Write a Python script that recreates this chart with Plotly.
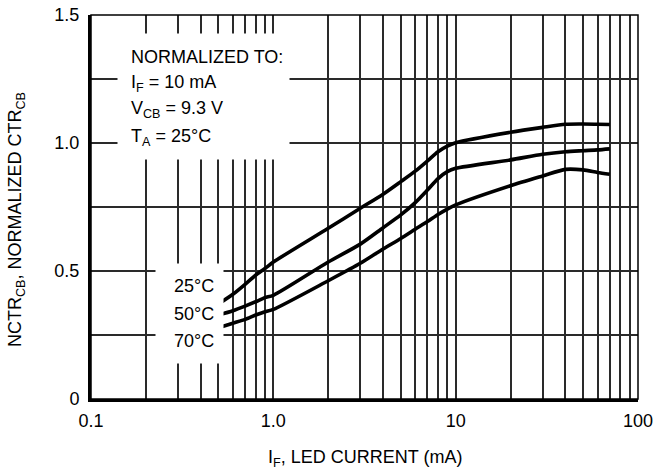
import plotly.graph_objects as go

# ---- data ----
led_current_ma = [0.5, 0.6, 0.7, 0.8, 0.9, 1.0, 2, 3, 4, 5, 6, 7, 8, 9, 10, 20, 30, 40, 50, 60, 70]
nctr_25c = [0.371, 0.409, 0.448, 0.484, 0.510, 0.535, 0.667, 0.745, 0.800, 0.849, 0.890, 0.930, 0.966, 0.988, 1.001, 1.042, 1.061, 1.073, 1.074, 1.073, 1.072]
nctr_50c = [0.328, 0.345, 0.363, 0.380, 0.396, 0.405, 0.535, 0.605, 0.669, 0.719, 0.767, 0.816, 0.861, 0.888, 0.901, 0.934, 0.956, 0.966, 0.970, 0.973, 0.977]
nctr_70c = [0.278, 0.296, 0.311, 0.328, 0.341, 0.350, 0.462, 0.530, 0.586, 0.627, 0.663, 0.693, 0.721, 0.742, 0.758, 0.833, 0.871, 0.897, 0.895, 0.885, 0.878]

series_names = ["25°C", "50°C", "70°C"]
note_lines = ["NORMALIZED TO:", "I<sub>F</sub> = 10 mA", "V<sub>CB</sub> = 9.3 V", "T<sub>A</sub> = 25°C"]

x_tickvals = [m * 10 ** e for e in (-1, 0, 1) for m in range(1, 10)] + [100]
x_ticktext = {0.1: "0.1", 1.0: "1.0", 10: "10", 100: "100"}
y_tickvals = [0, 0.25, 0.5, 0.75, 1.0, 1.25, 1.5]
y_ticktext = ["0", "", "0.5", "", "1.0", "", "1.5"]

FONT = "Liberation Sans, Arial, sans-serif"
FS = 18
GRID = "#2a2a2a"

fig = go.Figure()
for name, vals in zip(series_names, [nctr_25c, nctr_50c, nctr_70c]):
    fig.add_trace(go.Scatter(
        x=led_current_ma, y=vals, mode="lines", name=name,
        line=dict(color="black", width=3.6, shape="spline", smoothing=0.7),
        showlegend=False, hoverinfo="skip",
    ))

def xt(v):
    for k, t in x_ticktext.items():
        if abs(v - k) < 1e-9:
            return t
    return ""

fig.update_layout(
    width=655, height=474,
    margin=dict(l=91, r=17, t=15, b=75, autoexpand=False),
    paper_bgcolor="white", plot_bgcolor="white",
    font=dict(family=FONT, size=FS, color="black"),
    xaxis=dict(
        type="log", range=[-1, 2], automargin=False,
        tickvals=x_tickvals, ticktext=[xt(v) for v in x_tickvals],
        showgrid=True, gridcolor=GRID, gridwidth=1.5,
        showline=True, linecolor="black", linewidth=3,
        ticks="", ticklabelstandoff=3,
        zeroline=False,
    ),
    yaxis=dict(
        range=[0, 1.5], automargin=False,
        tickvals=y_tickvals, ticktext=y_ticktext,
        showgrid=True, gridcolor=GRID, gridwidth=1.5,
        showline=True, linecolor="black", linewidth=3,
        ticks="", ticklabelstandoff=5,
        zeroline=False,
    ),
)

# thin top/right frame
fig.add_shape(type="rect", xref="paper", yref="paper", x0=0, y0=0, x1=1, y1=1,
              line=dict(color="black", width=1.5), layer="above")

# x axis title
fig.add_annotation(
    xref="paper", yref="paper", x=0.5, y=0, xanchor="center", yanchor="middle",
    yshift=-59, showarrow=False,
    text="I<sub>F</sub>, LED CURRENT (mA)",
    font=dict(family=FONT, size=FS),
)

# y axis title
fig.add_annotation(
    xref="paper", yref="paper", x=0, y=0.466, xanchor="center", yanchor="middle",
    xshift=-75, textangle=-90, showarrow=False,
    text="NCTR<sub>CB</sub>, NORMALIZED CTR<sub>CB</sub>",
    font=dict(family=FONT, size=FS),
)

# white backing boxes behind the in-plot texts
fig.add_annotation(
    xref="paper", yref="paper", x=0.0475, y=0.953, xanchor="left", yanchor="top",
    showarrow=False, text=" ", width=171, height=125, bgcolor="white", borderpad=0,
)
fig.add_annotation(
    xref="paper", yref="paper", x=0.117, y=0.354, xanchor="left", yanchor="top",
    showarrow=False, text=" ", width=67, height=99, bgcolor="white", borderpad=0,
)

# normalization note lines
for txt, yy in zip(note_lines, [0.891, 0.821, 0.753, 0.681]):
    fig.add_annotation(
        xref="paper", yref="paper", x=0.0695, y=yy, xanchor="left", yanchor="middle",
        showarrow=False, align="left", text=txt, font=dict(family=FONT, size=FS),
    )

# temperature labels
for txt, yy in zip(series_names, [0.295, 0.221, 0.150]):
    fig.add_annotation(
        xref="paper", yref="paper", x=0.1475, y=yy, xanchor="left", yanchor="middle",
        showarrow=False, align="left", text=txt, font=dict(family=FONT, size=FS),
    )

fig.write_html("out.html")
